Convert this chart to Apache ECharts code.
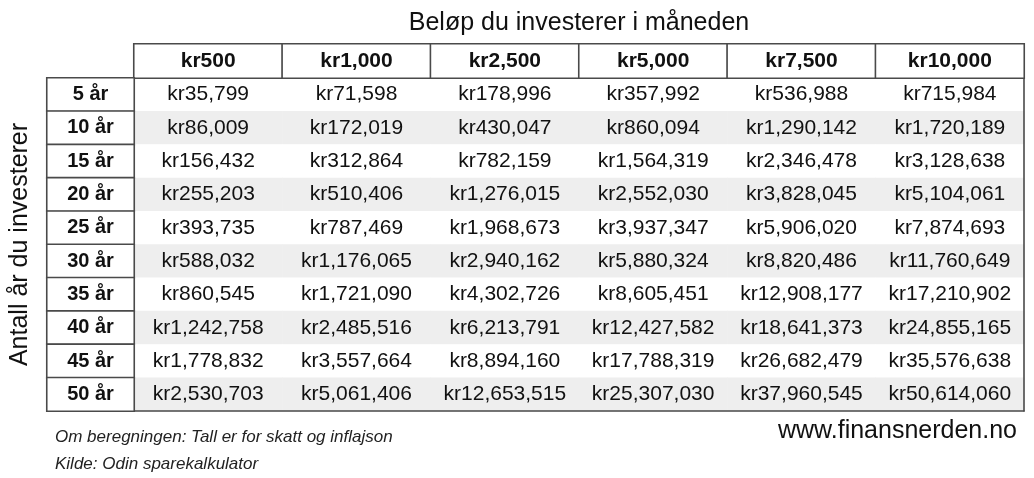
<!DOCTYPE html>
<html>
<head>
<meta charset="utf-8">
<script src="https://cdn.jsdelivr.net/npm/echarts@6/dist/echarts.min.js"></script>
<style>html,body{margin:0;padding:0;background:#fff;}#c{width:1034px;height:478px;}</style>
</head>
<body>
<div id="c"></div>
<script>
// Monthly amounts (columns) and years (rows)
var amounts = [500, 1000, 2500, 5000, 7500, 10000];
var years = [5, 10, 15, 20, 25, 30, 35, 40, 45, 50];
// Values per row (kr)
var y5  = [35799, 71598, 178996, 357992, 536988, 715984];
var y10 = [86009, 172019, 430047, 860094, 1290142, 1720189];
var y15 = [156432, 312864, 782159, 1564319, 2346478, 3128638];
var y20 = [255203, 510406, 1276015, 2552030, 3828045, 5104061];
var y25 = [393735, 787469, 1968673, 3937347, 5906020, 7874693];
var y30 = [588032, 1176065, 2940162, 5880324, 8820486, 11760649];
var y35 = [860545, 1721090, 4302726, 8605451, 12908177, 17210902];
var y40 = [1242758, 2485516, 6213791, 12427582, 18641373, 24855165];
var y45 = [1778832, 3557664, 8894160, 17788319, 26682479, 35576638];
var y50 = [2530703, 5061406, 12653515, 25307030, 37960545, 50614060];
var rows = [y5, y10, y15, y20, y25, y30, y35, y40, y45, y50];

var titleText = 'Beløp du investerer i måneden';
var yName = 'Antall år du investerer';
var note1 = 'Om beregningen: Tall er for skatt og inflajson';
var note2 = 'Kilde: Odin sparekalkulator';
var site = 'www.finansnerden.no';

function fmt(n) { return 'kr' + String(n).replace(/\B(?=(\d{3})+(?!\d))/g, ','); }
var colLabels = amounts.map(fmt);
var rowLabels = years.map(function (y) { return y + ' år'; });

var FONT = '"Liberation Sans", Arial, sans-serif';
var LINE = '#4a4a4a';

var mainData = [];
rows.forEach(function (r, i) {
  r.forEach(function (v, j) { mainData.push([j, i, v, i % 2]); });
});
var headData = amounts.map(function (a, j) { return [j, 0, a]; });
var rowData = years.map(function (y, i) { return [0, i, y]; });

var chart = echarts.init(document.getElementById('c'), null, { renderer: 'canvas' });
chart.setOption({
  animation: false,
  backgroundColor: '#fff',
  textStyle: { fontFamily: FONT },
  grid: [
    { left: 134, right: 10, top: 78, bottom: 67 },
    { left: 134, right: 10, top: 44, height: 34 },
    { left: 47, width: 87, top: 78, bottom: 67 }
  ],
  xAxis: [
    { type: 'category', gridIndex: 0, data: colLabels, position: 'bottom', z: 5,
      axisLine: { show: true, lineStyle: { color: LINE, width: 1.6 } },
      axisTick: { show: false }, axisLabel: { show: false }, splitLine: { show: false } },
    { type: 'category', gridIndex: 1, data: colLabels, position: 'top',
      name: titleText, nameLocation: 'middle', nameGap: 8,
      nameTextStyle: { fontSize: 25, color: '#111', fontFamily: FONT },
      axisLine: { show: false }, axisTick: { show: false }, axisLabel: { show: false } },
    { type: 'category', gridIndex: 2, data: ['år'],
      axisLine: { show: false }, axisTick: { show: false }, axisLabel: { show: false } }
  ],
  yAxis: [
    { type: 'category', gridIndex: 0, data: rowLabels, inverse: true, position: 'right', z: 5,
      axisLine: { show: true, lineStyle: { color: LINE, width: 1.6 } },
      axisTick: { show: false }, axisLabel: { show: false }, splitLine: { show: false } },
    { type: 'category', gridIndex: 1, data: ['h'],
      axisLine: { show: false }, axisTick: { show: false }, axisLabel: { show: false } },
    { type: 'category', gridIndex: 2, data: rowLabels, inverse: true,
      name: yName, nameLocation: 'middle', nameGap: 14, nameRotate: 90,
      nameTextStyle: { fontSize: 25, color: '#111', fontFamily: FONT },
      axisLine: { show: false }, axisTick: { show: false }, axisLabel: { show: false } }
  ],
  visualMap: [{
    type: 'piecewise', show: false, seriesIndex: 0, dimension: 3,
    pieces: [{ value: 0, color: '#ffffff' }, { value: 1, color: '#eeeeee' }]
  }],
  series: [
    { type: 'heatmap', xAxisIndex: 0, yAxisIndex: 0, data: mainData, z: 1,
      itemStyle: { borderWidth: 0 },
      label: { show: true, color: '#111', fontSize: 21, fontFamily: FONT,
        formatter: function (p) { return fmt(p.value[2]); } },
      emphasis: { disabled: true } },
    { type: 'heatmap', xAxisIndex: 1, yAxisIndex: 1, data: headData, z: 6,
      itemStyle: { color: '#ffffff', borderColor: LINE, borderWidth: 1.6 },
      label: { show: true, color: '#111', fontSize: 21, fontWeight: 'bold', fontFamily: FONT,
        formatter: function (p) { return fmt(p.value[2]); } },
      emphasis: { disabled: true } },
    { type: 'heatmap', xAxisIndex: 2, yAxisIndex: 2, data: rowData, z: 6,
      itemStyle: { color: '#ffffff', borderColor: LINE, borderWidth: 1.6 },
      label: { show: true, color: '#111', fontSize: 20, fontWeight: 'bold', fontFamily: FONT,
        formatter: function (p) { return p.value[2] + ' år'; } },
      emphasis: { disabled: true } }
  ],
  graphic: [
    { type: 'text', left: 55, top: 429,
      style: { text: note1, fontSize: 17, fontStyle: 'italic', fontFamily: FONT, fill: '#222' } },
    { type: 'text', left: 55, top: 456,
      style: { text: note2, fontSize: 17, fontStyle: 'italic', fontFamily: FONT, fill: '#222' } },
    { type: 'text', right: 17, top: 419,
      style: { text: site, fontSize: 25, fontFamily: FONT, fill: '#111' } }
  ]
});
</script>
</body>
</html>
